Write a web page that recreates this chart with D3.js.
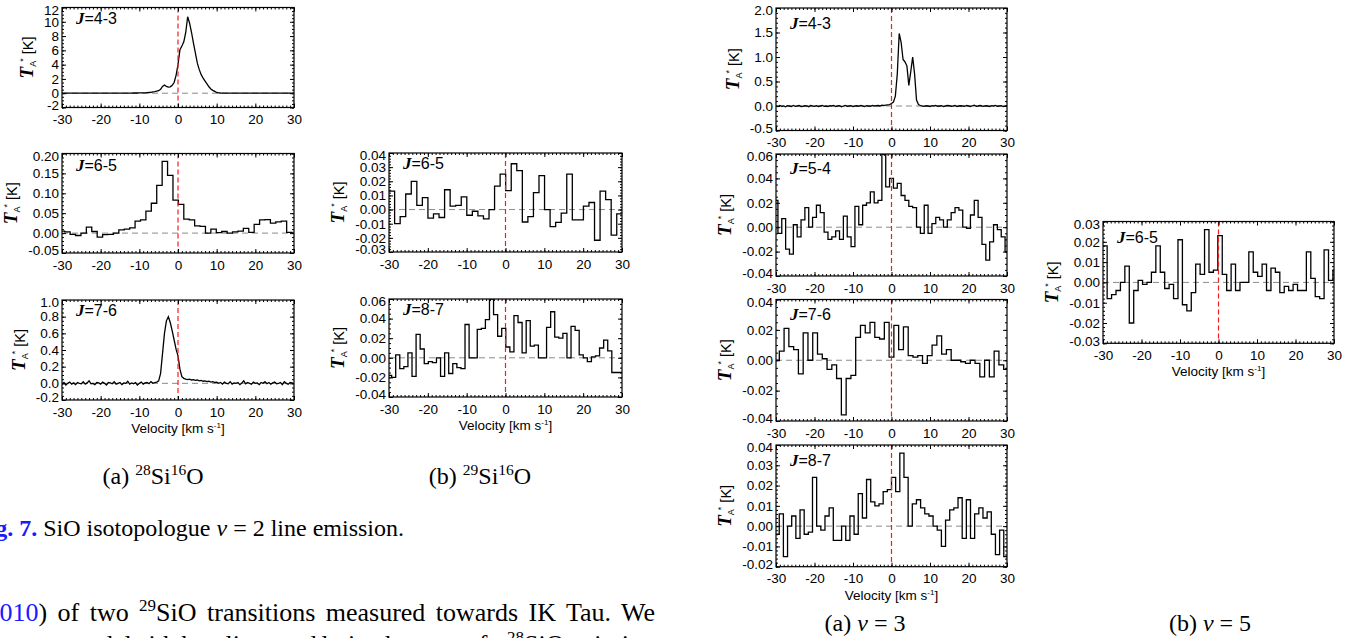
<!DOCTYPE html>
<html>
<head>
<meta charset="utf-8">
<title>SiO isotopologue line emission</title>
<script src="https://cdn.jsdelivr.net/npm/d3@7"></script>
<style>
  body { margin: 0; background: #fff; }
  svg { display: block; }
</style>
</head>
<body>
<div id="fig"></div>
<script>

// ---------------- data ----------------
var velDomain = [-30, 30];
var velTicks = [-30, -20, -10, 0, 10, 20, 30];

// smooth spectra, sampled every 0.5 km/s starting at -30
var smoothGrid = [-30, 0.5];

// 28Si16O v=2 J=4-3
var si28J43 = [
  0,0,0,0,0,0,0,0,0,0, 0,0,0,0,0,0,0,0,0,0, 0,0,0,0,0,0,0,0,0,0,
  0,0.01,0.01,0.01,0.02,0.02,0.02,0.03,0.03,0.03, 0.04,0.05,0.05,0.06,
  0.08,0.1,0.12,0.18,0.22,0.3,0.35,0.55,0.95,1.15,0.95,0.85,0.9,1.1,1.5,2.5,
  4.0,6.1,6.6,7.2,8.5,10.7,9.8,8.5,7.0,5.6,4.2,3.3,2.6,2.1,1.7,1.3,0.9,0.6,0.4,0.25,
  0.1,0.05,
  0.03,0.02,0.01,0.01,0,0,0,0,0,0, 0,0,0,0,0,0,0,0,0,0, 0,0,0,0,0,0,0,0,0,0, 0,0,0,0,0,0,0,0,0
];

// 28Si16O v=2 J=7-6
var si28J76 = [
  -0.01,0.01,-0.02,0.0,0.015,-0.01,0.005,-0.015,0.01,0.0,
  -0.005,0.02,-0.01,0.005,0.03,-0.005,0.0,-0.015,0.01,0.005,
  -0.01,0.015,0.0,-0.02,0.01,0.005,-0.005,0.02,-0.01,0.0,
  0.01,-0.015,0.005,0.0,0.025,-0.01,0.005,-0.005,0.01,-0.02,
  0.0,0.015,-0.01,0.005,0.01,-0.005,0.02,0.0,0.01,0.015,
  0.03,0.12,0.36,0.6,0.75,0.8,0.73,0.63,0.52,0.41,
  0.33,0.17,0.08,0.06,0.05,0.045,0.05,0.04,0.045,0.035,
  0.04,0.03,0.035,0.025,0.03,0.02,0.025,0.015,0.02,0.01,0.015,
  0.0,0.01,-0.01,0.015,0.0,-0.005,0.02,-0.01,0.005,0.0,
  0.01,-0.015,0.005,0.03,-0.005,0.01,0.0,-0.01,0.015,0.0,
  0.005,-0.015,0.01,0.0,0.02,-0.005,0.01,-0.01,0.005,0.015,
  -0.005,0.0,0.01,-0.015,0.02,0.0,-0.01,0.01,0.005,-0.005
];

// v=3 J=4-3
var v3J43 = [
  0.0,-0.01,0.01,-0.005,0.0,-0.015,0.005,0.0,-0.01,0.01,
  -0.005,0.0,0.01,-0.01,-0.005,0.005,0.0,-0.015,0.01,0.0,
  -0.005,0.005,-0.01,0.0,0.01,-0.005,0.0,-0.01,0.005,0.0,
  0.01,-0.01,0.0,0.005,-0.015,0.0,0.01,-0.005,0.0,0.005,
  -0.01,0.0,0.005,-0.005,0.01,0.0,-0.01,0.005,0.0,-0.005,
  0.01,0.0,0.005,0.01,0.0,0.015,0.01,0.02,
  0.025,0.03,0.05,0.08,0.2,0.65,1.48,1.3,0.95,0.9,0.82,0.42,0.7,1.0,0.65,0.12,0.03,
  0.01,0.0,-0.005,0.005,0.0,-0.01,0.005,0.0,0.01,-0.005,
  0.0,0.005,-0.01,0.0,0.01,0.005,-0.005,0.0,0.01,-0.01,
  0.0,0.005,0.0,-0.005,0.01,0.0,-0.01,0.005,0.015,-0.005,
  0.0,0.01,0.0,-0.005,0.005,0.0,-0.01,0.005,0.0,0.01,
  -0.005,0.0,0.005,-0.01,0.0,0.005
];

// binned spectra: [first channel centre, channel width] and channel values
var si28J65Grid = [-30.0, 1.4];
var si28J65 = [
  0.005,0.003,-0.003,-0.006,0.0,0.015,0.004,-0.01,-0.004,-0.003,
  0.0,0.008,0.01,0.013,0.03,0.033,0.055,0.075,0.12,0.18,
  0.145,0.083,0.072,0.035,0.033,0.018,0.017,0.0,0.01,0.001,
  0.004,0.0,0.003,0.005,0.012,0.002,0.022,0.033,0.034,0.025,
  0.028,0.03,0.002,0.0
];

var si29J65Grid = [-29.27, 1.43];
var si29J65 = [
  0.013,-0.01,-0.005,0.011,0.02,0.003,0.0085,-0.006,-0.003,-0.0056,
  0.014,0.0024,0.003,0.009,-0.004,-0.0012,-0.0044,-0.0066,0.0,0.0166,
  0.025,0.0134,0.0324,0.0276,-0.0088,-0.005,0.012,0.024,0.0,-0.012,
  -0.009,-0.0025,0.025,-0.0073,-0.0073,0.0024,0.005,-0.0217,0.013,0.007,
  -0.018,-0.003
];

var si29J87Grid = [-29.85, 1.05];
var si29J87 = [
  -0.018,-0.02,0.003,-0.011,-0.009,0.005,-0.019,0.024,0.009,-0.006,
  -0.004,-0.005,0.0,-0.019,0.005,-0.016,-0.006,-0.01,-0.011,0.034,
  0.0,0.0,0.029,0.03,0.039,0.06,0.044,0.022,0.03,0.011,
  0.006,0.043,0.036,0.005,0.038,0.012,0.013,0.0,0.0,0.031,
  0.047,0.021,0.02,0.025,0.0,0.032,0.028,0.003,0.0,-0.004,
  0.001,0.002,0.01,0.018,0.007,-0.015,-0.015,-0.015
];

var v3J54Grid = [-30, 1.0];
var v3J54 = [
  0.022,-0.005,0.007,-0.018,-0.022,0.002,-0.008,0.006,0.016,0.0,
  0.008,0.018,0.012,-0.004,-0.01,-0.008,-0.003,-0.01,0.009,-0.008,
  -0.016,0.017,0.002,0.018,0.02,0.029,0.02,0.022,0.06,0.033,
  0.04,0.032,0.036,0.026,0.022,0.017,0.016,0.0,-0.005,0.018,
  -0.005,0.003,0.008,0.006,0.0,0.006,0.012,0.016,0.014,0.0,
  -0.001,0.01,0.022,0.008,-0.014,-0.027,-0.012,0.002,-0.002,-0.008,
  -0.02
];

var v3J76Grid = [-29.76, 1.24];
var v3J76 = [
  0.0,0.006,0.021,0.009,0.007,-0.009,0.018,0.0,0.018,0.004,
  0.001,-0.006,-0.003,-0.012,-0.036,-0.012,-0.01,0.015,0.023,0.018,
  0.025,0.015,0.014,0.025,0.002,0.023,0.007,0.022,0.003,0.002,
  0.003,-0.002,0.003,0.01,0.016,0.004,0.007,0.0,0.0,-0.001,
  -0.002,0.0,-0.002,-0.011,0.0,-0.011,0.006,-0.003,-0.006
];

var v3J87Grid = [-29.7, 1.08];
var v3J87 = [
  -0.004,0.006,-0.015,0.0,0.005,-0.006,0.008,-0.004,-0.003,0.024,
  0.0,-0.002,0.005,0.009,-0.007,-0.007,0.0,-0.007,0.005,-0.004,
  0.016,0.004,0.023,0.012,0.01,0.011,0.017,0.018,0.024,0.017,
  0.036,0.024,0.0,0.011,0.013,0.009,0.006,0.005,0.0,-0.002,
  -0.01,0.003,0.008,0.009,0.014,-0.006,0.013,-0.006,0.006,0.009,
  0.004,0.007,-0.004,-0.014,-0.002,-0.015
];

var v5J65Grid = [-29.5, 1.15];
var v5J65 = [
  0.018,-0.008,-0.006,-0.004,0.0,0.008,-0.02,-0.004,0.001,-0.001,
  0.0,0.005,0.018,0.005,-0.003,-0.001,-0.008,0.021,-0.011,-0.014,
  -0.005,0.009,0.004,0.026,0.005,0.006,0.023,0.004,-0.004,0.009,
  -0.004,0.0,0.0,0.015,0.005,0.003,0.009,-0.004,0.007,0.005,
  -0.005,-0.002,-0.004,-0.001,-0.004,-0.004,0.015,0.002,-0.007,-0.008,
  0.016,0.001,0.006
];

// ---------------- layout ----------------
var sans = "'Liberation Sans', Arial, Helvetica, sans-serif";
var serif = "'Liberation Serif', 'Times New Roman', serif";
var fs = 13.5;

var panels = [
  {data: si28J43, grid: smoothGrid, step: false, x0: 62, x1: 294, y0: 7.5, y1: 107.5,
   yDom: [-2, 12], yStep: 2, yMinor: 0.5, dec: 0, J: "4-3", jOff: 10},
  {data: si28J65, grid: si28J65Grid, step: true, x0: 62, x1: 294, y0: 153.5, y1: 253,
   yDom: [-0.05, 0.20], yStep: 0.05, yMinor: 0.01, dec: 2, J: "6-5", jOff: 11},
  {data: si28J76, grid: smoothGrid, step: false, x0: 62, x1: 294, y0: 300, y1: 400,
   yDom: [-0.2, 1.0], yStep: 0.2, yMinor: 0.05, dec: 1, J: "7-6", jOff: 10, vel: true},
  {data: si29J65, grid: si29J65Grid, step: true, x0: 389, x1: 622, y0: 153, y1: 252,
   yDom: [-0.03, 0.04], yStep: 0.01, yMinor: 0.002, dec: 2, J: "6-5", jOff: 10},
  {data: si29J87, grid: si29J87Grid, step: true, x0: 389, x1: 622, y0: 299, y1: 397,
   yDom: [-0.04, 0.06], yStep: 0.02, yMinor: 0.005, dec: 2, J: "8-7", jOff: 10, vel: true},
  {data: v3J43, grid: smoothGrid, step: false, x0: 776, x1: 1007, y0: 8, y1: 130.5,
   yDom: [-0.5, 2.0], yStep: 0.5, yMinor: 0.1, dec: 1, J: "4-3", jOff: 15},
  {data: v3J54, grid: v3J54Grid, step: true, x0: 776, x1: 1007, y0: 154, y1: 276,
   yDom: [-0.04, 0.06], yStep: 0.02, yMinor: 0.005, dec: 2, J: "5-4", jOff: 14},
  {data: v3J76, grid: v3J76Grid, step: true, x0: 776, x1: 1007, y0: 299.5, y1: 421,
   yDom: [-0.04, 0.04], yStep: 0.02, yMinor: 0.005, dec: 2, J: "7-6", jOff: 14},
  {data: v3J87, grid: v3J87Grid, step: true, x0: 776, x1: 1007, y0: 445, y1: 566.7,
   yDom: [-0.02, 0.04], yStep: 0.01, yMinor: 0.002, dec: 2, J: "8-7", jOff: 15, vel: true},
  {data: v5J65, grid: v5J65Grid, step: true, x0: 1103, x1: 1334, y0: 221.5, y1: 343.3,
   yDom: [-0.03, 0.03], yStep: 0.01, yMinor: 0.002, dec: 2, J: "6-5", jOff: 15, vel: true}
];

var svg = d3.select("#fig").append("svg")
    .attr("width", 1365)
    .attr("height", 638);

function tickList(lo, hi, step) {
  var a = Math.ceil(lo / step - 1e-6), b = Math.floor(hi / step + 1e-6);
  return d3.range(a, b + 1).map(function (k) { return +(k * step).toFixed(6); });
}

function styleAxis(sel) {
  sel.select(".domain").remove();
  sel.selectAll(".tick line").attr("stroke", "#000").attr("stroke-width", 1);
  sel.attr("font-family", sans).attr("font-size", fs);
  sel.selectAll(".tick text").attr("fill", "#000");
}

panels.forEach(function (p, n) {
  var x = d3.scaleLinear().domain(velDomain).range([p.x0, p.x1]);
  var y = d3.scaleLinear().domain(p.yDom).range([p.y1, p.y0]);
  var g = svg.append("g");

  var cid = "clip" + n;
  svg.append("clipPath").attr("id", cid).append("rect")
      .attr("x", p.x0).attr("y", p.y0)
      .attr("width", p.x1 - p.x0).attr("height", p.y1 - p.y0);

  // zero level
  g.append("line")
      .attr("x1", x(-30)).attr("x2", x(30))
      .attr("y1", y(0)).attr("y2", y(0))
      .attr("stroke", "#8a8a8a").attr("stroke-width", 1)
      .attr("stroke-dasharray", "6,4");

  // spectrum
  var pts = [];
  var c0 = p.grid[0], dv = p.grid[1];
  p.data.forEach(function (t, i) {
    var c = c0 + i * dv;
    if (p.step) {
      pts.push([c - dv / 2, t], [c + dv / 2, t]);
    } else {
      pts.push([c, t]);
    }
  });
  g.append("path")
      .datum(pts)
      .attr("clip-path", "url(#" + cid + ")")
      .attr("fill", "none")
      .attr("stroke", "#000")
      .attr("stroke-width", 1.3)
      .attr("d", d3.line().x(function (d) { return x(d[0]); }).y(function (d) { return y(d[1]); }));

  // systemic velocity
  g.append("line")
      .attr("x1", x(0)).attr("x2", x(0))
      .attr("y1", p.y0).attr("y2", p.y1)
      .attr("stroke", "#ff1a1a").attr("stroke-width", 1.2)
      .attr("stroke-dasharray", "5,3");

  // axes (IDL style: inward ticks on all four sides)
  var xMinor = tickList(-30, 30, 1);
  var yMajor = tickList(p.yDom[0], p.yDom[1], p.yStep);
  var yMinor = tickList(p.yDom[0], p.yDom[1], p.yMinor);
  var fmt = function (d) { return (Math.abs(d) < 1e-9 ? 0 : d).toFixed(p.dec); };

  g.append("g").attr("transform", "translate(0," + p.y1 + ")")
      .call(d3.axisBottom(x).tickValues(xMinor).tickSize(-2).tickFormat("")).call(styleAxis);
  g.append("g").attr("transform", "translate(0," + p.y1 + ")")
      .call(d3.axisBottom(x).tickValues(velTicks).tickSize(-4).tickPadding(7)
        .tickFormat(function (d) { return String(d); })).call(styleAxis);
  g.append("g").attr("transform", "translate(0," + p.y0 + ")")
      .call(d3.axisTop(x).tickValues(xMinor).tickSize(-2).tickFormat("")).call(styleAxis);
  g.append("g").attr("transform", "translate(0," + p.y0 + ")")
      .call(d3.axisTop(x).tickValues(velTicks).tickSize(-4).tickFormat("")).call(styleAxis);

  g.append("g").attr("transform", "translate(" + p.x0 + ",0)")
      .call(d3.axisLeft(y).tickValues(yMinor).tickSize(-2).tickFormat("")).call(styleAxis);
  var yl = g.append("g").attr("transform", "translate(" + p.x0 + ",0)")
      .call(d3.axisLeft(y).tickValues(yMajor).tickSize(-4).tickPadding(3).tickFormat(fmt)).call(styleAxis);
  // end labels sit a little inside the frame, as in the original plots
  var yTxt = yl.selectAll(".tick text");
  yTxt.filter(function (d) { return Math.abs(d - p.yDom[0]) < 1e-9; }).attr("transform", "translate(0,-2.5)");
  yTxt.filter(function (d) { return Math.abs(d - p.yDom[1]) < 1e-9; }).attr("transform", "translate(0,2.5)");
  g.append("g").attr("transform", "translate(" + p.x1 + ",0)")
      .call(d3.axisRight(y).tickValues(yMinor).tickSize(-2).tickFormat("")).call(styleAxis);
  g.append("g").attr("transform", "translate(" + p.x1 + ",0)")
      .call(d3.axisRight(y).tickValues(yMajor).tickSize(-4).tickFormat("")).call(styleAxis);

  // frame
  g.append("rect")
      .attr("x", p.x0).attr("y", p.y0)
      .attr("width", p.x1 - p.x0).attr("height", p.y1 - p.y0)
      .attr("fill", "none").attr("stroke", "#000").attr("stroke-width", 1.2);

  // transition label
  var jl = g.append("text")
      .attr("x", p.x0 + 14).attr("y", p.y0 + p.jOff + 6)
      .attr("font-size", 16);
  jl.append("tspan").attr("font-family", serif).attr("font-style", "italic")
      .attr("font-weight", "bold").attr("font-size", 17).text("J");
  jl.append("tspan").attr("font-family", sans).text("=" + p.J);

  // y title
  var bb = yl.node().getBBox();
  var tx = p.x0 + bb.x - 11, cy = (p.y0 + p.y1) / 2;
  var yt = g.append("text")
      .attr("transform", "translate(" + tx + "," + cy + ") rotate(-90)")
      .attr("text-anchor", "middle")
      .attr("font-family", sans).attr("font-size", 14.5);
  yt.append("tspan").attr("font-family", serif).attr("font-style", "italic")
      .attr("font-weight", "bold").attr("font-size", 19).text("T");
  yt.append("tspan").attr("font-size", 9).attr("dy", 3).text("A");
  yt.append("tspan").attr("font-size", 9).attr("dy", -10).attr("dx", -1).text("*");
  yt.append("tspan").attr("dy", 7).text(" [K]");

  // velocity title
  if (p.vel) {
    var vt = g.append("text")
        .attr("x", (p.x0 + p.x1) / 2).attr("y", p.y1 + 33)
        .attr("text-anchor", "middle")
        .attr("font-family", sans).attr("font-size", fs);
    vt.append("tspan").text("Velocity [km s");
    vt.append("tspan").attr("font-size", 8).attr("dy", -5).text("-1");
    vt.append("tspan").attr("dy", 5).text("]");
  }
});

// ---------------- captions and page text ----------------
function isoCaption(cx, yb, lab, a, b) {
  var t = svg.append("text").attr("x", cx).attr("y", yb)
      .attr("text-anchor", "middle").attr("font-family", serif).attr("font-size", 24);
  t.append("tspan").text(lab + " ");
  t.append("tspan").attr("font-size", 15.5).attr("dy", -9).text(a);
  t.append("tspan").attr("dy", 9).text("Si");
  t.append("tspan").attr("font-size", 15.5).attr("dy", -9).text(b);
  t.append("tspan").attr("dy", 9).text("O");
}
isoCaption(153, 484, "(a)", "28", "16");
isoCaption(480, 484, "(b)", "29", "16");

function vibCaption(cx, lab, num) {
  var t = svg.append("text").attr("x", cx).attr("y", 631)
      .attr("text-anchor", "middle").attr("font-family", serif).attr("font-size", 24);
  t.append("tspan").text(lab + " ");
  t.append("tspan").attr("font-style", "italic").text("v");
  t.append("tspan").text(" = " + num);
}
vibCaption(865, "(a)", "3");
vibCaption(1210, "(b)", "5");

var fig = svg.append("text").attr("y", 535.5).attr("font-family", serif).attr("font-size", 24);
fig.append("tspan").attr("font-weight", "bold").attr("fill", "#1a1aff").text("Fig. 7.");
fig.append("tspan").text(" SiO isotopologue ");
fig.append("tspan").attr("font-style", "italic").text("v");
fig.append("tspan").text(" = 2 line emission.");
fig.attr("x", 404 - fig.node().getComputedTextLength());

function justify(sel, x0, x1) {
  var s = sel.text();
  var gaps = (s.match(/ /g) || []).length;
  var w = sel.node().getComputedTextLength();
  sel.attr("x", x0).attr("word-spacing", (x1 - x0 - w) / gaps);
}

var l1 = svg.append("text").attr("y", 621).attr("font-family", serif).attr("font-size", 26);
l1.append("tspan").attr("fill", "#1a1aff").text("2010");
l1.append("tspan").text(") of two ");
l1.append("tspan").attr("font-size", 17).attr("dy", -10).text("29");
l1.append("tspan").attr("dy", 10).text("SiO transitions measured towards IK Tau. We");
justify(l1, -13.5, 655);

var l2 = svg.append("text").attr("y", 653).attr("font-family", serif).attr("font-size", 26);
l2.append("tspan").text("test our model with these lines, and derive the same as for ");
l2.append("tspan").attr("font-size", 17).attr("dy", -10).text("28");
l2.append("tspan").attr("dy", 10).text("SiO emission");
justify(l2, 0, 655);

</script>
</body>
</html>
